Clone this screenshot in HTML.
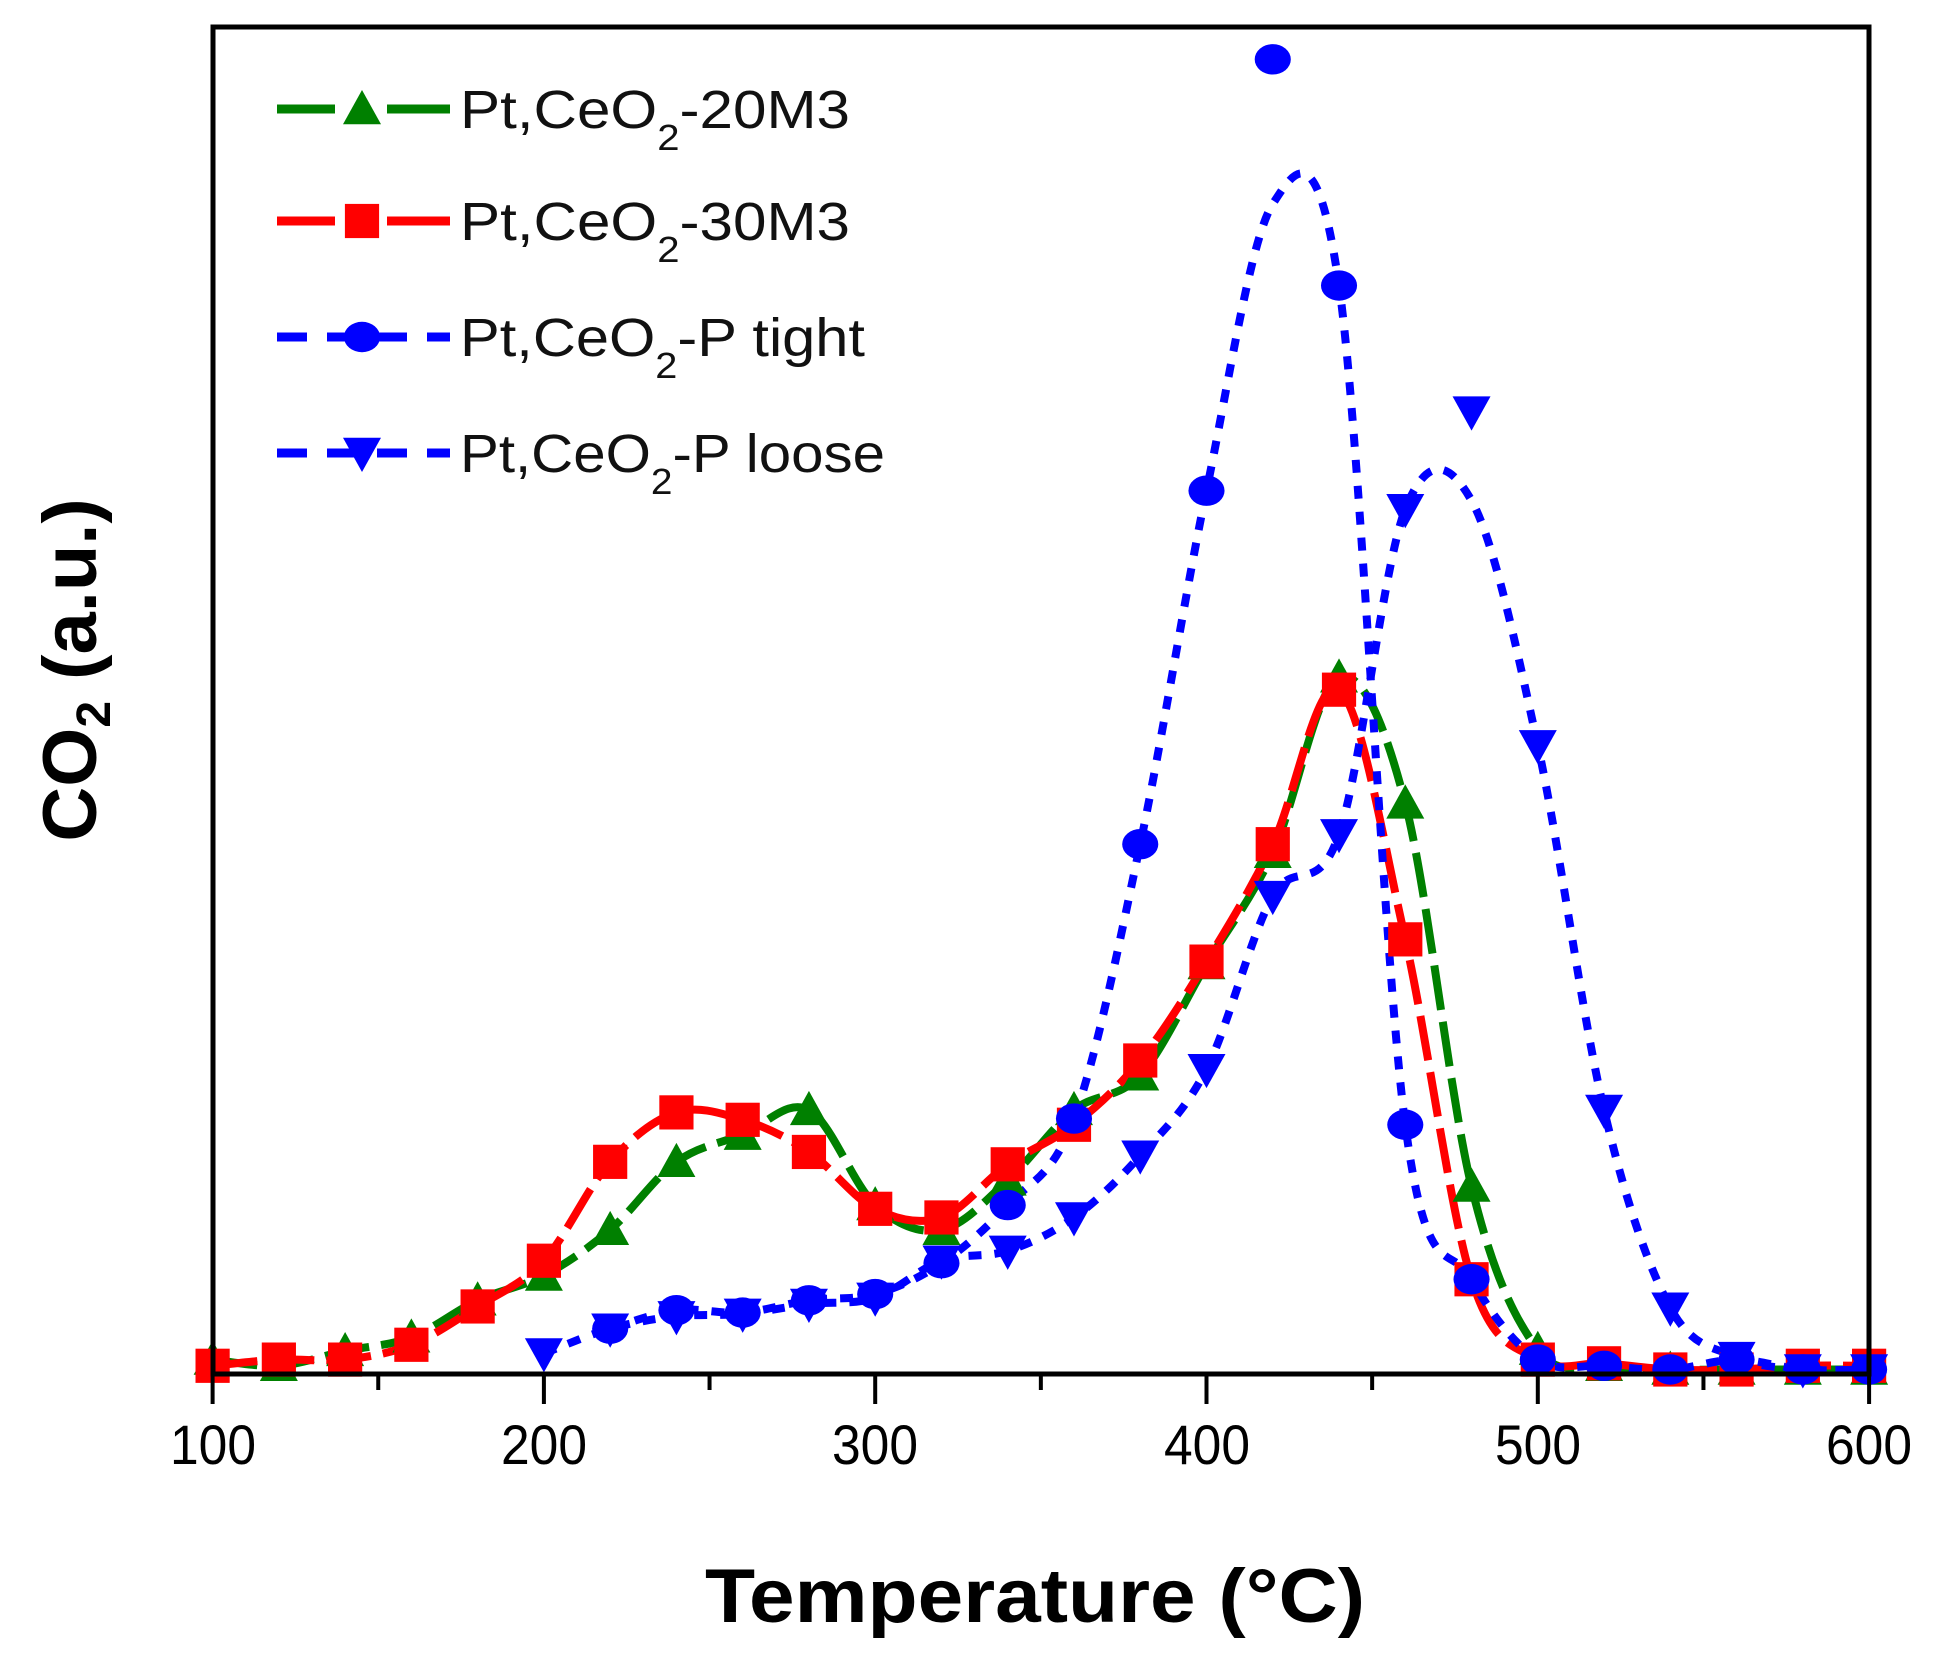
<!DOCTYPE html>
<html><head><meta charset="utf-8"><style>
html,body{margin:0;padding:0;background:#fff;width:1938px;height:1657px;overflow:hidden}
svg{display:block}
</style></head><body>
<svg id="s" width="1938" height="1657" xmlns="http://www.w3.org/2000/svg">
<rect x="0" y="0" width="1938" height="1657" fill="#fff"/>
<g id="data"></g>
<rect x="213" y="27" width="1656" height="1347" fill="none" stroke="#000" stroke-width="5"/>
<g stroke="#000" stroke-width="4" id="ticks"></g>
<g font-family="'Liberation Sans Narrow','Liberation Sans',sans-serif" font-size="56" text-anchor="middle" fill="#000">
<text x="213" y="1464" textLength="86" lengthAdjust="spacingAndGlyphs">100</text><text x="544" y="1464" textLength="86" lengthAdjust="spacingAndGlyphs">200</text><text x="875" y="1464" textLength="86" lengthAdjust="spacingAndGlyphs">300</text>
<text x="1207" y="1464" textLength="86" lengthAdjust="spacingAndGlyphs">400</text><text x="1538" y="1464" textLength="86" lengthAdjust="spacingAndGlyphs">500</text><text x="1869" y="1464" textLength="86" lengthAdjust="spacingAndGlyphs">600</text>
</g>
<text x="1035" y="1622" font-family="'Liberation Sans',sans-serif" font-weight="bold" font-size="76" text-anchor="middle" textLength="660" lengthAdjust="spacingAndGlyphs">Temperature (°C)</text>
<g transform="translate(96,670) rotate(-90)" font-family="'Liberation Sans',sans-serif" font-weight="bold" font-size="76" text-anchor="middle">
<text x="0" y="0">CO<tspan font-size="48" dy="14">2</tspan><tspan dy="-14"> (a.u.)</tspan></text>
</g>
<g id="legend" font-family="'Liberation Sans Narrow','Liberation Sans',sans-serif" font-size="54" fill="#111">
<text x="460" y="128" textLength="390" lengthAdjust="spacingAndGlyphs">Pt,CeO<tspan font-size="36" dy="22">2</tspan><tspan dy="-22">-20M3</tspan></text>
<text x="460" y="240" textLength="390" lengthAdjust="spacingAndGlyphs">Pt,CeO<tspan font-size="36" dy="22">2</tspan><tspan dy="-22">-30M3</tspan></text>
<text x="460" y="356" textLength="405" lengthAdjust="spacingAndGlyphs">Pt,CeO<tspan font-size="36" dy="22">2</tspan><tspan dy="-22">-P tight</tspan></text>
<text x="460" y="472" textLength="425" lengthAdjust="spacingAndGlyphs">Pt,CeO<tspan font-size="36" dy="22">2</tspan><tspan dy="-22">-P loose</tspan></text>
</g>
</svg>
<script>
const NS="http://www.w3.org/2000/svg";
const X=t=>212.6+(t-100)*3.313, Y=d=>d*1.236;
const g=document.getElementById('data');
function el(n,a,p){const e=document.createElementNS(NS,n);for(const k in a)e.setAttribute(k,a[k]);(p||g).appendChild(e);return e;}
const tk=document.getElementById('ticks');
for(let t=100;t<=600;t+=50){const x=X(t);el('line',{x1:x,y1:1374,x2:x,y2:t%100==0?1404:1390},tk);}
function path(pts){pts=pts.map(p=>[X(p[0]),Y(p[1])]);let d='M'+pts[0][0]+' '+pts[0][1];
for(let i=0;i<pts.length-1;i++){const p0=pts[Math.max(i-1,0)],p1=pts[i],p2=pts[i+1],p3=pts[Math.min(i+2,pts.length-1)];
const c1=[p1[0]+(p2[0]-p0[0])/6,p1[1]+(p2[1]-p0[1])/6],c2=[p2[0]-(p3[0]-p1[0])/6,p2[1]-(p3[1]-p1[1])/6];
d+=` C${c1[0]} ${c1[1]} ${c2[0]} ${c2[1]} ${p2[0]} ${p2[1]}`;}return d;}
function marker(type,x,y,c,par){const r=19;
if(type=='tri')el('polygon',{points:`${x},${y-r} ${x-r},${y+r*0.8} ${x+r},${y+r*0.8}`,fill:c},par);
else if(type=='sq')el('rect',{x:x-r*0.9,y:y-r*0.9,width:r*1.8,height:r*1.8,fill:c},par);
else if(type=='circ')el('ellipse',{cx:x,cy:y,rx:r*0.95,ry:r*0.8,fill:c},par);
else el('polygon',{points:`${x-r},${y-r*0.8} ${x+r},${y-r*0.8} ${x},${y+r}`,fill:c},par);}
const T=[100,120,140,160,180,200,220,240,260,280,300,320,340,360,380,400,420,440,460,480,500,520,540,560,580,600];
const green=[1100,1105,1093,1082,1052,1032,995,940,918,898,975,995,955,898,870,780,690,548,650,960,1092,1105,1108,1108,1108,1108];
const red=[1105,1100,1100,1088,1057,1020,940,900,906,932,978,985,942,910,858,778,683,558,760,1035,1100,1103,1108,1108,1105,1105];
const TT=[220,240,260,280,300,320,340,360,380,400,420,440,460,480,500,520,540,560,580,600];
const tight=[1075,1060,1062,1052,1047,1022,975,905,683,397,48,231,910,1035,1100,1105,1108,1100,1108,1108];
const TL=[200,220,240,260,280,300,320,340,360,380,400,420,440,460,480,500,520,540,560,580,600];
const loose=[1095,1075,1065,1063,1055,1050,1020,1012,985,935,865,725,675,412,333,603,898,1058,1098,1108,1108];
const series=[
 {t:T,v:green,c:'#008000',m:'tri',dash:'45 12'},
 {t:T,v:red,c:'#ff0000',m:'sq',dash:'45 12'},
 {t:TT,v:tight,c:'#0000ff',m:'circ',dash:'13 13',line:{420:165}},
 {t:TL,v:loose,c:'#0000ff',m:'dn',dash:'13 13',line:{480:405}}
];
series.forEach(s=>{const lp=s.t.map((t,i)=>[t,(s.line&&s.line[t])||s.v[i]]);
el('path',{d:path(lp),fill:'none',stroke:s.c,'stroke-width':8,'stroke-dasharray':s.dash});});
series.forEach(s=>{s.t.forEach((t,i)=>marker(s.m,X(t),Y(s.v[i]),s.c));});
const lg=document.getElementById('legend');const ys=[109,221,337,453];
series.forEach((s,i)=>{const y=ys[i];
if(i<2){el('line',{x1:277,y1:y,x2:335,y2:y,stroke:s.c,'stroke-width':9},lg);el('line',{x1:387,y1:y,x2:450,y2:y,stroke:s.c,'stroke-width':9},lg);}
else el('line',{x1:277,y1:y,x2:450,y2:y,stroke:s.c,'stroke-width':9,'stroke-dasharray':'30 20'},lg);
marker(s.m,362,y,s.c,lg);});
</script>
</body></html>
